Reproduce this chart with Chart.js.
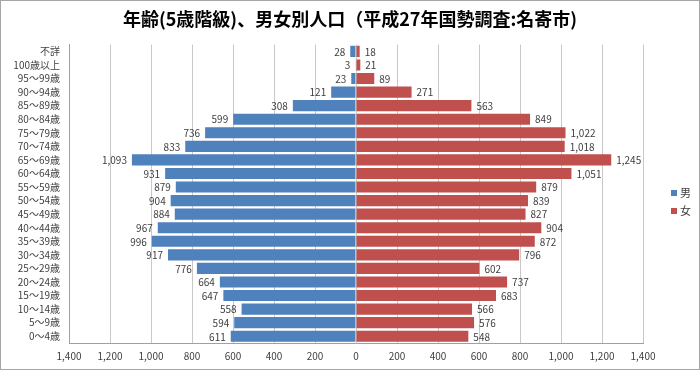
<!DOCTYPE html>
<html><head><meta charset="utf-8">
<script src="https://cdn.jsdelivr.net/npm/chart.js@4/dist/chart.umd.min.js"></script>
<style>html,body{margin:0;padding:0;background:#fff}canvas{display:block}</style>
</head><body>
<canvas id="c" width="700" height="370"></canvas>
<script>
const categories = ['不詳','100歳以上','95～99歳','90～94歳','85～89歳','80～84歳','75～79歳','70～74歳','65～69歳','60～64歳','55～59歳','50～54歳','45～49歳','40～44歳','35～39歳','30～34歳','25～29歳','20～24歳','15～19歳','10～14歳','5～9歳','0～4歳'];
const male = [28,3,23,121,308,599,736,833,1093,931,879,904,884,967,996,917,776,664,647,558,594,611];
const female = [18,21,89,271,563,849,1022,1018,1245,1051,879,839,827,904,872,796,602,737,683,566,576,548];
const seriesNames = ['男','女'];
const titleText = '年齢(5歳階級)、男女別人口（平成27年国勢調査:名寄市)';

const FONT = '"Noto Sans CJK JP", "Noto Sans", sans-serif';
const TXT = '#404040';
const fmt = v => Math.abs(v).toLocaleString('en-US');

const labelPlugin = {
  id: 'barLabels',
  afterDatasetsDraw(chart) {
    const ctx = chart.ctx;
    ctx.save();
    ctx.font = '10px ' + FONT;
    ctx.fillStyle = TXT;
    ctx.textBaseline = 'middle';
    chart.data.datasets.forEach((ds, di) => {
      const meta = chart.getDatasetMeta(di);
      meta.data.forEach((el, i) => {
        const v = ds.data[i];
        if (v < 0) { ctx.textAlign = 'right'; ctx.fillText(fmt(v), el.x - 5, el.y + 0.5); }
        else { ctx.textAlign = 'left'; ctx.fillText(fmt(v), el.x + 5, el.y + 0.5); }
      });
    });
    ctx.restore();
  }
};

const legendPlugin = {
  id: 'customLegend',
  afterDraw(chart) {
    const ctx = chart.ctx;
    ctx.save();
    chart.data.datasets.forEach((ds, i) => {
      const y = 190 + i * 18;
      ctx.fillStyle = ds.backgroundColor;
      ctx.fillRect(671, y, 6, 6);
      ctx.fillStyle = TXT;
      ctx.font = '11px ' + FONT;
      ctx.textAlign = 'left';
      ctx.textBaseline = 'middle';
      ctx.fillText(ds.label, 680, y + 3);
    });
    ctx.strokeStyle = '#a6a6a6';
    ctx.lineWidth = 1;
    ctx.strokeRect(0.5, 0.5, 699, 369);
    ctx.restore();
  }
};

new Chart(document.getElementById('c'), {
  type: 'bar',
  data: {
    labels: categories,
    datasets: [
      { label: seriesNames[0], data: male.map(v => -v), backgroundColor: '#4F81BD', barPercentage: 0.82, categoryPercentage: 1 },
      { label: seriesNames[1], data: female, backgroundColor: '#C0504D', barPercentage: 0.82, categoryPercentage: 1 }
    ]
  },
  options: {
    indexAxis: 'y',
    responsive: false,
    animation: false,
    devicePixelRatio: 1,
    layout: { padding: { left: 0, right: 0, top: 0, bottom: 0 } },
    plugins: {
      legend: { display: false },
      tooltip: { enabled: false },
      title: { display: true, text: titleText, color: '#000', font: { family: FONT, size: 18, weight: 'bold', lineHeight: 1.2 }, padding: { top: 8, bottom: 15 } }
    },
    scales: {
      x: {
        stacked: true, min: -1400, max: 1400,
        afterFit(s) { s.height = 27; },
        ticks: { stepSize: 200, callback: v => fmt(v), color: TXT, font: { family: FONT, size: 10 }, padding: 7, maxRotation: 0, autoSkip: false },
        grid: { color: '#c8c8c8', drawTicks: false },
        border: { color: '#a0a0a0' }
      },
      y: {
        stacked: true,
        afterFit(s) { s.width = 69; },
        ticks: { color: TXT, font: { family: FONT, size: 10 }, padding: 9, autoSkip: false },
        grid: { display: false, drawTicks: false },
        border: { color: '#a0a0a0' }
      },
      yRight: {
        type: 'category', position: 'right', display: true,
        afterFit(s) { s.width = 57; },
        ticks: { display: false },
        grid: { display: false, drawTicks: false },
        border: { display: false }
      }
    }
  },
  plugins: [labelPlugin, legendPlugin]
});
</script>
</body></html>
